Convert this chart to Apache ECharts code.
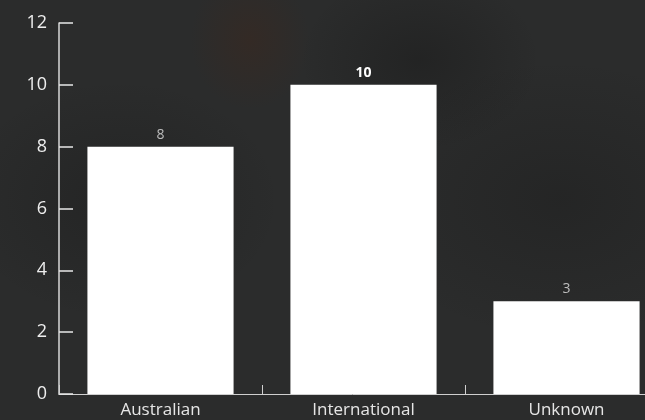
<!DOCTYPE html>
<html>
<head>
<meta charset="utf-8">
<script src="https://cdn.jsdelivr.net/npm/echarts@6/dist/echarts.min.js"></script>
<style>
  html, body { margin: 0; padding: 0; }
  body {
    width: 645px; height: 420px; overflow: hidden;
    background:
      radial-gradient(ellipse 60px 70px at 250px 40px, rgba(60,40,30,0.5), rgba(0,0,0,0)),
      radial-gradient(ellipse 120px 90px at 420px 60px, rgba(20,20,20,0.35), rgba(0,0,0,0)),
      radial-gradient(ellipse 160px 120px at 120px 200px, rgba(20,20,20,0.3), rgba(0,0,0,0)),
      radial-gradient(ellipse 200px 140px at 560px 200px, rgba(22,22,22,0.3), rgba(0,0,0,0)),
      #2b2c2c;
  }
  #chart { width: 645px; height: 420px; }
</style>
</head>
<body>
<div id="chart"></div>
<script>
// Origin of respondents
const categories = ['Australian', 'International', 'Unknown'];
const counts = [8, 10, 3];
const yTicks = { min: 0, max: 12, interval: 2 };

const maxCount = Math.max(...counts);

const chart = echarts.init(document.getElementById('chart'), null, { renderer: 'canvas' });

chart.setOption({
  backgroundColor: 'transparent',
  animation: false,
  grid: { left: 59, right: -23, top: 23, bottom: 26, containLabel: false, outerBoundsMode: 'none' },
  xAxis: {
    type: 'category',
    data: categories,
    boundaryGap: true,
    axisLine: { show: true, lineStyle: { color: '#d0d0d0', width: 1 } },
    axisTick: { show: true, inside: true, length: 9, alignWithLabel: false, lineStyle: { color: '#d0d0d0' } },
    axisLabel: { color: '#e6e6e6', fontSize: 17, fontFamily: 'Open Sans', margin: 8 },
    splitLine: { show: false }
  },
  yAxis: {
    type: 'value',
    min: yTicks.min,
    max: yTicks.max,
    interval: yTicks.interval,
    axisLine: { show: true, lineStyle: { color: '#d8d8d8', width: 1.5 } },
    axisTick: { show: true, inside: true, length: 14, lineStyle: { color: '#e8e8e8', width: 1.5 } },
    axisLabel: { color: '#eeeeee', fontSize: 18, fontFamily: 'Open Sans', margin: 12 },
    splitLine: { show: false }
  },
  series: [{
    type: 'bar',
    data: counts.map(v => ({
      value: v,
      label: v === maxCount
        ? { color: '#ffffff', fontWeight: 'bold' }
        : { color: '#bdbdbd', fontWeight: 'normal' }
    })),
    barCategoryGap: '28%',
    itemStyle: { color: '#ffffff' },
    label: {
      show: true,
      position: 'top',
      distance: 5,
      fontSize: 14,
      fontFamily: 'Open Sans'
    }
  }]
});
</script>
</body>
</html>
